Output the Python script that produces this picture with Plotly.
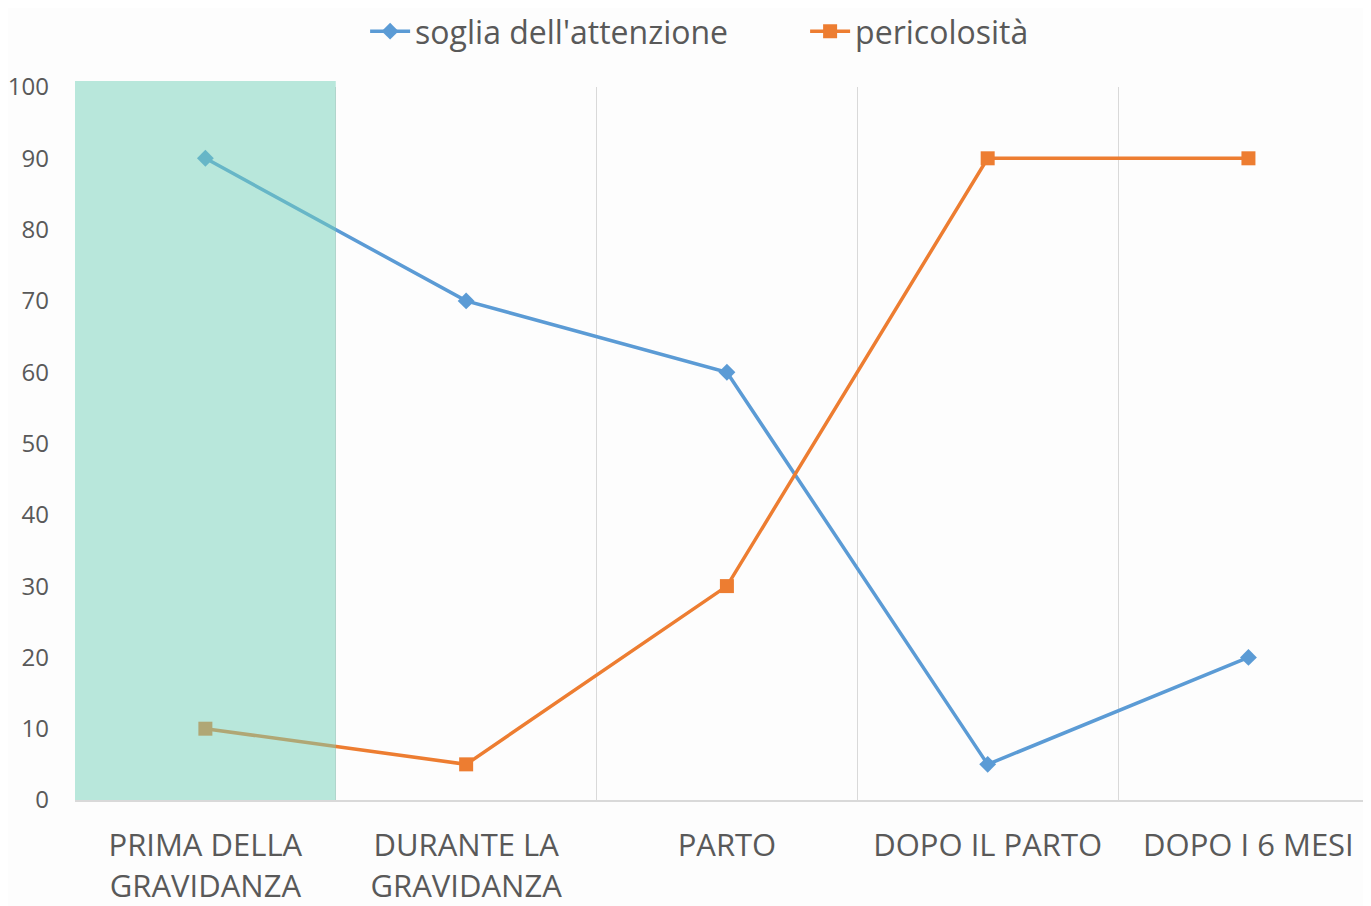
import plotly.graph_objects as go

categories = ["PRIMA DELLA<br>GRAVIDANZA", "DURANTE LA<br>GRAVIDANZA", "PARTO",
              "DOPO IL PARTO", "DOPO I 6 MESI"]
soglia = [90, 70, 60, 5, 20]
pericolosita = [10, 5, 30, 90, 90]
y_ticks = [0, 10, 20, 30, 40, 50, 60, 70, 80, 90, 100]

BLUE = "#5B9BD5"
ORANGE = "#ED7D31"
GRAY = "#595959"

fig = go.Figure()
fig.add_trace(go.Scatter(
    x=categories, y=soglia, name="soglia dell'attenzione", mode="lines+markers",
    line=dict(color=BLUE, width=3.5),
    marker=dict(symbol="diamond", size=13, color=BLUE)))
fig.add_trace(go.Scatter(
    x=categories, y=pericolosita, name="pericolosità", mode="lines+markers",
    line=dict(color=ORANGE, width=3.5),
    marker=dict(symbol="square", size=14, color=ORANGE)))

# highlight of the first period
fig.add_shape(type="rect", xref="x", yref="paper", x0=-0.5, x1=0.5, y0=0, y1=1.0084,
              fillcolor="rgb(115,209,185)", opacity=0.5, line=dict(width=0), layer="above")

fig.update_layout(
    width=1363, height=898,
    margin=dict(l=67, r=0, t=79, b=104),
    paper_bgcolor="#fdfdfd", plot_bgcolor="rgba(0,0,0,0)",
    font=dict(family="Open Sans", color=GRAY),
    showlegend=True,
    legend=dict(orientation="h", x=0.262, xanchor="left", xref="container",
                y=0.974, yanchor="middle", yref="container",
                font=dict(size=32, color=GRAY, family="Open Sans"),
                itemwidth=40, entrywidth=385, tracegroupgap=0),
    xaxis=dict(type="category", range=[-0.5, 4.47], tickson="boundaries",
               showgrid=True, gridcolor="#D9D9D9", gridwidth=1,
               showline=True, linecolor="#D9D9D9", linewidth=2,
               zeroline=False, ticks="", tickangle=0,
               tickfont=dict(size=31, color=GRAY, family="Open Sans"),
               ticklabelstandoff=17, fixedrange=True),
    yaxis=dict(range=[0, 100], tickvals=y_ticks, showgrid=False, zeroline=False,
               showline=False, ticks="",
               tickfont=dict(size=24, color=GRAY, family="Open Sans"),
               ticklabelstandoff=25),
)

fig.write_html("out.html")
